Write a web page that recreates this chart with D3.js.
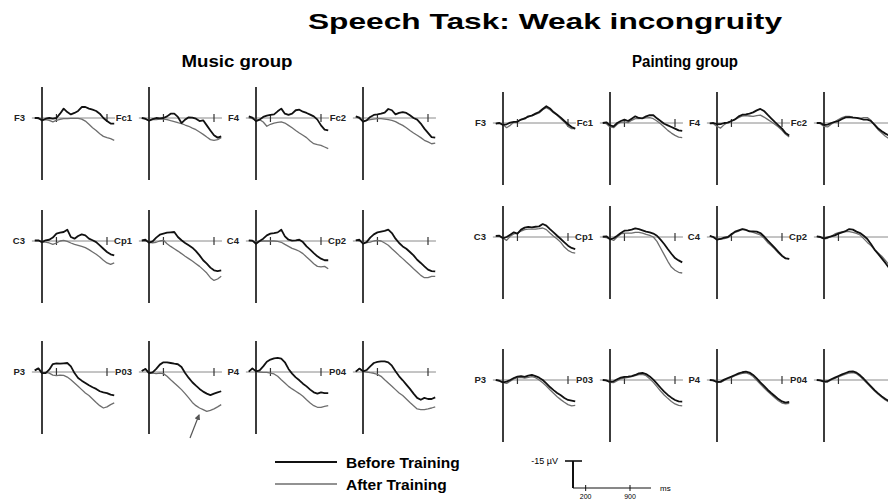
<!DOCTYPE html>
<html>
<head>
<meta charset="utf-8">
<script src="https://cdnjs.cloudflare.com/ajax/libs/d3/7.8.5/d3.min.js"></script>
<style>
  body { margin: 0; background: #fff; }
  svg { display: block; font-family: "Liberation Sans", Arial, sans-serif; }
</style>
</head>
<body>
<script>
(function(){

  //pseudo-global variables
  var times = [-100, -50, 0, 50, 100, 150, 200, 250, 300, 350, 400, 450, 500, 550, 600, 650, 700, 750, 800, 850, 900, 950, 1000]; //sample times in ms
  var tickTimes = [200, 900]; //tick marks on every baseline
  var electrodes = ["F3", "Fc1", "F4", "Fc2", "C3", "Cp1", "C4", "Cp2", "P3", "P03", "P4", "P04"];
  var groupNames = ["Music group", "Painting group"];
  var seriesNames = ["Before Training", "After Training"];
  var titleText = "Speech Task: Weak incongruity";
  var scaleBarValue = -15; //µV
  var scaleBarTicks = [200, 900]; //ms

  //amplitudes in µV (negative plotted up), one array per electrode
  var musicBefore = [
    [0, 0, 1.3, 0.4, 0, 0.4, 0, -2.4, -5.2, -3.3, -2.0, -2.8, -3.9, -6.1, -6.1, -5.2, -4.6, -3.9, -2.4, 0, 1.7, 3.1, 3.1],
    [0, 0.4, 1.5, 0.6, 0, 0.2, 0, -0.9, -2.4, -2.4, -0.6, 2.8, 0.9, -0.4, -0.2, 0.4, 1.7, 1.3, 4.1, 6.9, 9.6, 10.9, 10.2],
    [-0.9, -0.2, 1.7, 0.9, -0.6, -1.3, -1.7, -2.0, -3.7, -5.2, -2.4, -1.7, -2.4, -4.3, -4.6, -3.5, -2.8, -1.9, -0.9, 0.9, 4.1, 6.5, 6.9],
    [-0.9, -0.2, 2.0, 1.3, -0.6, -1.7, -2.0, -2.4, -3.0, -5.0, -4.3, -2.0, -2.8, -3.3, -2.8, -1.5, 0, 0.9, 3.1, 5.9, 8.3, 10.6, 10.9],
    [-0.4, -0.4, 0.6, -0.4, -0.7, -1.9, -4.1, -4.6, -5.0, -6.3, -2.2, -1.3, -2.8, -3.7, -3.1, -1.3, -0.4, 0.6, 2.4, 4.3, 6.1, 7.4, 8.0],
    [-0.4, -0.7, 0.9, 0.2, -1.9, -3.5, -4.1, -4.6, -4.8, -5.0, -2.2, -0.4, 1.1, 2.4, 3.7, 5.6, 8.0, 10.7, 12.6, 14.8, 16.3, 16.7, 16.3],
    [-0.4, -0.2, 1.5, 0, -1.3, -3.1, -4.1, -4.4, -4.8, -6.3, -2.6, -0.7, -0.2, -0.4, -0.7, 0.6, 3.0, 4.8, 6.7, 8.5, 9.8, 10.7, 10.7],
    [-0.4, -0.7, 1.5, 0.6, -1.9, -3.7, -4.8, -5.2, -5.6, -6.3, -4.4, -1.3, 1.1, 3.0, 4.3, 6.1, 8.0, 10.4, 12.2, 14.1, 15.9, 16.7, 16.9],
    [-0.9, -2.0, 0.6, 0.6, -1.3, -4.4, -4.8, -4.6, -4.8, -5.0, -3.1, 0.6, 3.3, 4.8, 6.1, 7.4, 8.5, 9.4, 10.7, 11.3, 11.7, 12.6, 13.0],
    [-0.6, -1.7, 0.6, 0.2, -1.7, -4.1, -5.4, -5.4, -5.0, -4.6, -4.3, -2.8, 0.6, 3.3, 5.7, 7.6, 9.4, 10.9, 12.0, 12.8, 12.0, 11.3, 10.7],
    [-0.2, -2.0, -0.4, -0.9, -3.1, -5.7, -6.9, -7.6, -7.8, -7.4, -5.4, -1.7, 0.9, 3.0, 4.6, 6.5, 8.0, 9.8, 11.3, 12.0, 11.3, 11.7, 11.7],
    [-0.2, -1.9, -0.4, -1.1, -3.1, -5.0, -5.6, -5.9, -5.9, -5.4, -3.5, -0.4, 2.4, 4.6, 7.0, 9.4, 12.0, 14.4, 15.4, 14.4, 15.0, 15.0, 14.1]
  ];
  var musicAfter = [
    [0, 0.4, 1.3, 0.9, 1.3, 2.2, 1.3, 0.7, 0.4, 0.4, 0.2, 0.2, 0.2, 0.6, 1.7, 3.5, 5.4, 6.9, 8.7, 10.2, 10.9, 11.5, 12.4],
    [0, 0.6, 1.3, 0.7, 0.9, 0.6, 0.6, 0.9, 1.5, 2.0, 2.6, 3.1, 3.9, 4.6, 5.6, 6.5, 7.8, 9.1, 10.6, 12.0, 12.4, 12.0, 10.9],
    [-0.2, 0.4, 1.3, 0.9, 2.2, 4.6, 3.5, 2.8, 2.4, 2.2, 2.8, 4.1, 5.4, 6.9, 8.3, 9.6, 10.9, 12.8, 14.3, 14.8, 15.2, 16.1, 17.0],
    [-0.6, 0.2, 1.7, 1.3, 0.9, 0.6, 0.4, 0.4, 0.6, 0.9, 1.3, 2.0, 3.1, 4.1, 5.4, 6.9, 8.3, 9.6, 10.9, 12.4, 13.3, 14.3, 13.9],
    [0, 0, 0.6, 0.6, 1.1, 1.9, 1.1, 0, -0.4, 0.2, 1.1, 1.9, 2.4, 3.0, 3.7, 4.8, 6.1, 7.4, 8.9, 10.7, 12.2, 13.0, 12.2],
    [0, 0, 0.7, 1.1, 0.7, 0, -0.4, 1.5, 3.0, 4.3, 5.6, 7.0, 8.5, 9.8, 11.1, 12.6, 14.1, 15.9, 17.8, 20.4, 21.9, 21.1, 19.6],
    [-0.2, 0, 0.6, 0.2, 0, 0, 0, 0, 0.2, 0.7, 1.9, 3.0, 4.1, 4.8, 5.7, 7.0, 8.9, 10.7, 12.6, 14.1, 14.4, 14.1, 15.4],
    [-0.4, 0, 0.9, 0.9, 0.6, 0, -0.4, 0, 1.1, 2.4, 4.3, 6.1, 8.0, 9.8, 11.7, 13.5, 15.4, 17.2, 19.1, 20.4, 20.4, 19.6, 19.6],
    [-0.9, -2.0, 0.6, 0.2, 0.6, 1.7, 2.0, 1.7, 1.9, 2.8, 4.3, 6.1, 7.9, 9.8, 11.7, 13.1, 15.0, 16.9, 18.7, 20.0, 19.4, 18.1, 17.2],
    [-0.6, -1.7, 0.6, 0.6, 0.9, 0.6, 0.9, 2.4, 4.3, 6.1, 7.9, 9.8, 12.0, 14.4, 16.9, 18.7, 20.0, 20.9, 21.9, 21.3, 20.5, 19.4, 18.1],
    [-0.2, -2.0, -0.4, 0, 0.2, 0.2, 0.6, 1.1, 2.4, 4.3, 6.1, 8.0, 9.4, 10.7, 12.0, 13.5, 15.4, 17.2, 18.7, 19.6, 19.6, 19.1, 18.7],
    [-0.2, -1.9, -0.4, 0, 0.4, 0.7, 1.3, 2.4, 4.3, 6.1, 7.9, 9.8, 11.7, 13.1, 15.0, 16.9, 18.7, 20.5, 20.9, 20.9, 20.5, 20.0, 19.4]
  ];
  var paintingBefore = [
    [0.4, 0, 1.1, 0.7, -0.2, -0.6, -0.7, -1.9, -2.4, -3.7, -4.1, -5.2, -6.1, -7.8, -9.3, -8.1, -6.1, -4.6, -3.0, -1.1, 0.7, 2.2, 3.1],
    [0, -0.4, 1.3, 1.9, 0, -1.1, -1.9, -1.1, -2.4, -3.7, -2.8, -2.6, -3.7, -4.4, -4.3, -2.6, -1.1, 0.4, 1.3, 2.2, 3.1, 4.1, 4.4],
    [0.2, 0, 0.7, 0.6, 0, -0.2, -1.1, -2.0, -3.7, -4.6, -4.8, -5.2, -5.9, -7.0, -7.8, -6.7, -4.6, -2.6, -0.6, 1.3, 3.1, 5.6, 6.9],
    [0, 0, 1.1, 0.9, 0, -0.6, -1.1, -2.2, -3.1, -3.3, -3.0, -2.8, -2.4, -1.9, -1.9, -1.1, 0.9, 3.1, 4.6, 5.9, 6.9, 7.8, 8.7],
    [-0.6, -0.7, 0.7, 0, -1.3, -2.6, -1.9, -4.1, -5.2, -5.6, -5.4, -5.7, -5.9, -7.2, -6.3, -4.4, -2.6, -0.7, 1.1, 3.0, 4.8, 6.1, 6.7],
    [-0.2, -0.4, 1.3, 0.7, -0.7, -2.2, -3.5, -3.7, -4.1, -4.8, -4.4, -3.7, -3.0, -2.6, -1.9, -0.7, 1.5, 3.9, 6.7, 9.3, 11.7, 13.0, 14.1],
    [-0.6, 0, 1.5, 1.1, 0.4, 0, -1.5, -3.0, -3.7, -4.4, -3.9, -3.1, -3.1, -3.0, -2.2, -0.4, 1.9, 3.9, 6.1, 8.3, 10.4, 11.9, 12.2],
    [-0.4, 0, 0.9, 0.2, -0.4, -0.9, -1.9, -2.6, -3.3, -4.4, -4.1, -3.0, -2.2, -0.7, 1.1, 3.9, 7.0, 9.4, 11.9, 14.4, 17.2, 18.9, 20.0],
    [0, 0.4, 1.3, 0.9, 0, -1.1, -1.9, -2.2, -1.7, -2.4, -2.8, -2.2, -1.3, 0, 1.9, 3.9, 5.6, 7.2, 8.5, 10.0, 11.1, 11.5, 11.9],
    [0, 0.2, 1.1, 0.7, -0.4, -1.3, -1.7, -1.9, -2.2, -2.8, -3.7, -3.9, -3.3, -2.0, -0.2, 2.0, 4.3, 6.5, 8.3, 9.8, 11.1, 11.9, 12.0],
    [0, 0.2, 1.1, 0.9, -0.2, -1.1, -1.9, -2.8, -3.7, -4.3, -4.6, -4.1, -2.8, -0.9, 1.3, 3.3, 5.4, 7.2, 8.9, 10.6, 11.9, 12.6, 12.2],
    [0, 0.2, 0.9, 0.7, -0.4, -1.3, -2.2, -3.1, -3.9, -4.6, -4.8, -4.1, -2.6, -0.7, 1.5, 3.5, 5.6, 7.4, 9.1, 10.6, 11.7, 12.4, 12.6]
  ];
  var paintingAfter = [
    [0.4, 0, 0.9, 2.6, 1.3, -0.4, -1.1, -1.9, -2.8, -3.3, -4.3, -4.8, -5.6, -7.4, -8.5, -7.4, -5.7, -4.3, -2.4, -0.6, 1.9, 3.1, 3.1],
    [0, 0.4, 2.2, 2.6, 0.7, -0.4, -0.6, -0.2, -1.5, -2.4, -2.4, -2.6, -2.8, -3.0, -2.4, -1.1, 0.4, 2.2, 4.1, 5.6, 6.9, 7.8, 8.1],
    [0.2, 0.4, 1.9, 2.8, 0.9, -0.4, -1.1, -2.0, -3.0, -3.9, -4.1, -3.9, -3.7, -4.1, -4.4, -3.3, -2.0, -0.7, 0.7, 2.2, 4.1, 6.3, 7.8],
    [0, 0.4, 1.9, 2.2, 0.7, -0.7, -1.9, -3.0, -3.7, -3.7, -3.3, -3.0, -2.6, -3.0, -3.0, -1.5, 1.3, 3.7, 5.6, 7.4, 8.7, 9.6, 10.2],
    [-0.4, -0.4, 0.6, 1.9, -0.4, -1.7, -2.0, -3.3, -4.1, -4.4, -4.4, -4.4, -4.6, -5.0, -4.1, -2.2, -0.4, 1.1, 3.0, 5.6, 7.4, 8.5, 8.9],
    [0, 0.4, 1.1, 1.9, 0, -1.7, -2.2, -2.2, -2.2, -2.6, -2.6, -2.2, -1.5, -0.9, 0, 2.4, 6.1, 9.8, 13.5, 16.7, 18.5, 19.6, 20.0],
    [-0.6, 0.2, 1.1, 1.1, 0.9, 0.4, -1.1, -2.6, -3.3, -4.3, -4.1, -3.3, -2.6, -1.9, -1.1, 0.6, 3.0, 4.8, 6.7, 8.9, 10.7, 11.7, 12.2],
    [-0.4, 0.2, 1.1, 0.7, -0.4, -1.7, -2.4, -2.8, -3.1, -3.0, -2.6, -2.0, -1.1, 0.9, 3.0, 4.8, 7.0, 8.9, 10.7, 13.0, 15.4, 17.2, 18.5],
    [0, 0.6, 1.5, 1.9, 0.7, -0.6, -1.3, -1.5, -1.1, -1.5, -1.9, -1.3, 0, 1.5, 3.3, 5.4, 7.4, 9.3, 10.9, 12.4, 13.7, 14.4, 14.1],
    [0, 0.4, 1.3, 1.5, 0.4, -0.7, -1.1, -1.5, -1.9, -2.4, -3.0, -3.1, -2.4, -0.7, 1.3, 3.7, 6.1, 8.3, 10.2, 11.9, 13.3, 14.1, 14.4],
    [0, 0.4, 1.3, 1.3, 0.2, -0.7, -1.5, -2.4, -3.1, -3.7, -3.9, -3.3, -1.9, 0.2, 2.2, 4.3, 6.3, 8.1, 9.8, 11.5, 12.8, 13.3, 13.0],
    [0, 0.4, 1.1, 1.1, 0, -0.9, -1.7, -2.6, -3.3, -3.9, -4.1, -3.5, -2.0, 0, 2.0, 4.1, 6.1, 7.9, 9.6, 11.1, 12.2, 12.8, 13.0]
  ];

  var width = 888, //svg frame dimensions
      height = 502;

  var beforeStyle = {stroke: "#111", width: 1.8},
      afterStyle = {stroke: "#6e6e6e", width: 1.3};

  var svg = d3.select("body")
    .append("svg")
    .attr("width", width)
    .attr("height", height);

  //ms -> px offset from the stimulus line, µV -> px offset from the baseline
  var xScale = d3.scaleLinear().domain([0, 900]).range([0, 65]);
  var yScale = d3.scaleLinear().domain([-15, 0]).range([-27, 0]);

  var line = d3.line()
    .x(function(d, i){ return xScale(times[i]); })
    .y(function(d){ return yScale(d); });

  //the two panel grids
  var groups = [
    {name: groupNames[0], before: musicBefore, after: musicAfter, x0: 42, rows: [118, 241, 372], cx: 237, tl: 111},
    {name: groupNames[1], before: paintingBefore, after: paintingAfter, x0: 503, rows: [123, 237, 380], cx: 685, tl: 106}
  ];
  var colStep = 107;

  //title
  svg.append("text")
    .attr("x", 545)
    .attr("y", 29)
    .attr("text-anchor", "middle")
    .attr("textLength", 474)
    .attr("lengthAdjust", "spacingAndGlyphs")
    .style("font-size", "22px")
    .style("font-weight", "bold")
    .text(titleText);

  groups.forEach(function(g){
    svg.append("text")
      .attr("x", g.cx)
      .attr("y", 67)
      .attr("text-anchor", "middle")
      .attr("textLength", g.tl)
      .attr("lengthAdjust", "spacingAndGlyphs")
      .style("font-size", "16px")
      .style("font-weight", "bold")
      .text(g.name);

    electrodes.forEach(function(el, k){
      var col = k % 4, row = Math.floor(k / 4);
      var panel = svg.append("g")
        .attr("transform", "translate(" + (g.x0 + col * colStep) + "," + g.rows[row] + ")");
      drawPanel(panel, el, g.before[k], g.after[k]);
    });
  });

  //one electrode panel: axes, label, both waveforms
  function drawPanel(panel, label, before, after){
    panel.append("line") //baseline
      .attr("x1", xScale(-140)).attr("x2", xScale(1010))
      .attr("y1", 0).attr("y2", 0)
      .attr("stroke", "#8a8a8a")
      .attr("stroke-width", 1);

    panel.selectAll(".tick")
      .data(tickTimes)
      .enter()
      .append("line")
      .attr("x1", function(d){ return xScale(d); })
      .attr("x2", function(d){ return xScale(d); })
      .attr("y1", -4).attr("y2", 4)
      .attr("stroke", "#333")
      .attr("stroke-width", 1.2);

    panel.append("line") //stimulus onset
      .attr("x1", 0).attr("x2", 0)
      .attr("y1", yScale(-17.2)).attr("y2", yScale(34.4))
      .attr("stroke", "#3c3c3c")
      .attr("stroke-width", 2);

    panel.append("text")
      .attr("x", -17)
      .attr("y", 0)
      .attr("dy", "0.35em")
      .attr("text-anchor", "end")
      .style("font-size", "9.5px")
      .style("font-weight", "bold")
      .style("fill", "#222")
      .text(label);

    panel.append("path")
      .datum(after)
      .attr("d", line)
      .attr("fill", "none")
      .attr("stroke", afterStyle.stroke)
      .attr("stroke-width", afterStyle.width)
      .attr("stroke-linejoin", "round");

    panel.append("path")
      .datum(before)
      .attr("d", line)
      .attr("fill", "none")
      .attr("stroke", beforeStyle.stroke)
      .attr("stroke-width", beforeStyle.width)
      .attr("stroke-linejoin", "round");
  };

  //legend
  var legend = svg.append("g").attr("transform", "translate(275,462)");
  [beforeStyle, afterStyle].forEach(function(s, i){
    legend.append("line")
      .attr("x1", 0).attr("x2", 62)
      .attr("y1", i * 22).attr("y2", i * 22)
      .attr("stroke", s.stroke)
      .attr("stroke-width", s.width);
    legend.append("text")
      .attr("x", 71)
      .attr("y", i * 22 + 6)
      .style("font-size", "15.5px")
      .style("font-weight", "bold")
      .text(seriesNames[i]);
  });

  //calibration bar
  var barX = d3.scaleLinear().domain([0, 900]).range([0, 57]);
  var bar = svg.append("g").attr("transform", "translate(573,488)");
  bar.append("line")
    .attr("x1", 0).attr("x2", 0)
    .attr("y1", 0).attr("y2", yScale(scaleBarValue))
    .attr("stroke", "#111").attr("stroke-width", 2);
  bar.append("line")
    .attr("x1", -8).attr("x2", 9)
    .attr("y1", yScale(scaleBarValue)).attr("y2", yScale(scaleBarValue))
    .attr("stroke", "#111").attr("stroke-width", 1.6);
  bar.append("line")
    .attr("x1", 0).attr("x2", 78)
    .attr("y1", 0).attr("y2", 0)
    .attr("stroke", "#111").attr("stroke-width", 1);
  bar.selectAll(".btick")
    .data(scaleBarTicks)
    .enter()
    .append("line")
    .attr("x1", function(d){ return barX(d); })
    .attr("x2", function(d){ return barX(d); })
    .attr("y1", -3).attr("y2", 3)
    .attr("stroke", "#111");
  bar.selectAll(".blabel")
    .data(scaleBarTicks)
    .enter()
    .append("text")
    .attr("x", function(d){ return barX(d); })
    .attr("y", 11)
    .attr("text-anchor", "middle")
    .style("font-size", "7px")
    .text(function(d){ return d; });
  bar.append("text")
    .attr("x", 87)
    .attr("y", 3)
    .style("font-size", "8px")
    .text("ms");
  bar.append("text")
    .attr("x", -15)
    .attr("y", yScale(scaleBarValue) + 3)
    .attr("text-anchor", "end")
    .style("font-size", "9px")
    .text(scaleBarValue + " µV");

  //arrow pointing at the late positivity
  var defs = svg.append("defs");
  defs.append("marker")
    .attr("id", "head")
    .attr("viewBox", "0 0 10 10")
    .attr("refX", 8).attr("refY", 5)
    .attr("markerWidth", 5).attr("markerHeight", 5)
    .attr("orient", "auto")
    .append("path")
    .attr("d", "M0,0L10,5L0,10z")
    .attr("fill", "#555");
  svg.append("line")
    .attr("x1", 190).attr("y1", 438)
    .attr("x2", 199).attr("y2", 415)
    .attr("stroke", "#555")
    .attr("stroke-width", 1.2)
    .attr("marker-end", "url(#head)");
})();
</script>
</body>
</html>
